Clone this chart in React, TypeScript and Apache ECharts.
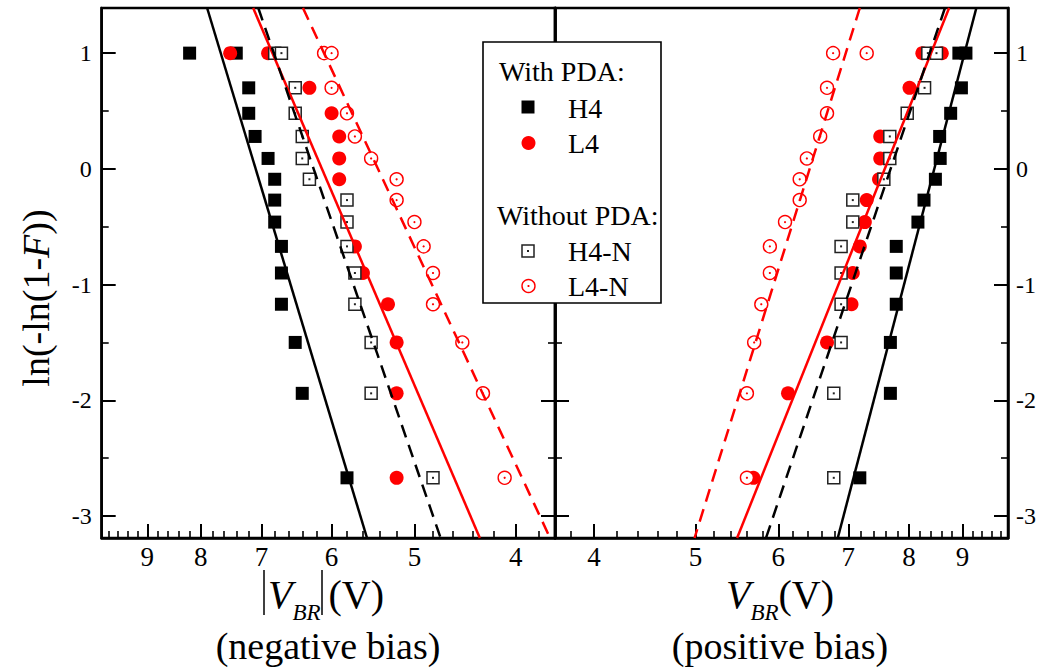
import React, { useEffect, useRef } from 'react';
import * as echarts from 'echarts';

const FONT = 'Liberation Serif';
const BLACK = '#000000';
const RED = '#ff0000';

// ---- axis ranges and ticks (V is shown on a logarithmic scale) ----
const X_MIN = 3.67;
const X_MAX = 9.95;
const Y_MIN = -3.19;
const Y_MAX = 1.39;
const X_MAJOR_TICKS = [4, 5, 6, 7, 8, 9];
const X_MINOR_TICKS = [3.8, 4.2, 4.4, 4.6, 4.8, 5.2, 5.4, 5.6, 5.8, 6.2, 6.4, 6.6, 6.8, 7.2, 7.4, 7.6, 7.8, 8.2, 8.4, 8.6, 8.8, 9.2, 9.4, 9.6, 9.8];
const Y_MAJOR_TICKS = [-3, -2, -1, 0, 1];
const Y_MINOR_TICKS = [-2.5, -1.5, -0.5, 0.5];

// ---- Weibull levels ln(-ln(1-F)) ----
const Y15 = [1.0, 1.0, 0.7, 0.48, 0.28, 0.09, -0.09, -0.27, -0.46, -0.67, -0.9, -1.17, -1.5, -1.94, -2.67];
const NEG_L4_Y = [1.0, 1.0, 0.7, 0.48, 0.28, 0.09, -0.09, -0.67, -0.9, -1.17, -1.5, -1.94, -2.67];
const POS_L4_Y = [1.0, 1.0, 0.7, 0.28, 0.09, -0.09, -0.27, -0.46, -0.67, -0.9, -1.17, -1.5, -1.94, -2.67];

// ---- negative bias |V_BR| (V) ----
const NEG_H4_V = [8.2, 7.4, 7.2, 7.2, 7.1, 6.9, 6.8, 6.8, 6.8, 6.7, 6.7, 6.7, 6.5, 6.4, 5.8];
const NEG_L4_V = [7.5, 6.9, 6.3, 6.0, 5.9, 5.9, 5.9, 5.7, 5.6, 5.3, 5.2, 5.2, 5.2];
const NEG_H4N_V = [6.8, 6.7, 6.5, 6.5, 6.4, 6.4, 6.3, 5.8, 5.8, 5.8, 5.7, 5.7, 5.5, 5.5, 4.8];
const NEG_L4N_V = [6.1, 6.0, 6.0, 5.8, 5.7, 5.5, 5.2, 5.2, 5.0, 4.9, 4.8, 4.8, 4.5, 4.3, 4.1];

// ---- positive bias V_BR (V) ----
const POS_H4_V = [8.93, 9.07, 8.98, 8.77, 8.56, 8.57, 8.48, 8.27, 8.16, 7.78, 7.78, 7.78, 7.68, 7.68, 7.18];
const POS_L4_V = [8.24, 8.6, 8.01, 7.51, 7.51, 7.49, 7.29, 7.26, 7.18, 7.07, 7.05, 6.68, 6.13, 5.68];
const POS_H4N_V = [8.34, 8.5, 8.28, 7.97, 7.67, 7.67, 7.57, 7.07, 7.07, 6.89, 6.89, 6.89, 6.89, 6.78, 6.78];
const POS_L4N_V = [6.77, 7.29, 6.68, 6.68, 6.58, 6.39, 6.29, 6.29, 6.09, 5.89, 5.89, 5.78, 5.69, 5.6, 5.6];

// ---- Weibull fit lines (end points) ----
const FIT_Y = [1.39, -3.19];
const NEG_FIT_H4 = [7.89, 5.55];
const NEG_FIT_L4 = [7.13, 4.33];
const NEG_FIT_H4N = [7.05, 4.72];
const NEG_FIT_L4N = [6.39, 3.71];
const POS_FIT_H4 = [9.28, 6.84];
const POS_FIT_L4 = [8.74, 5.48];
const POS_FIT_H4N = [8.66, 5.84];
const POS_FIT_L4N = [7.18, 4.99];

const ln = Math.log;
const pts = (vs: number[], ys: number[]) => vs.map((v, i) => [ln(v), ys[i]]);

function xAxis(gridIndex: number, inverse: boolean, major: boolean) {
  return {
    type: 'value',
    gridIndex,
    inverse,
    position: 'bottom',
    min: ln(X_MIN),
    max: ln(X_MAX),
    axisLine: { show: major, onZero: false, lineStyle: { color: BLACK, width: 2.5 } },
    axisTick: {
      show: true,
      inside: true,
      length: major ? 14 : 7,
      customValues: (major ? X_MAJOR_TICKS : X_MINOR_TICKS).map(ln),
      lineStyle: { color: BLACK, width: major ? 2 : 1.6 },
    },
    axisLabel: {
      show: major,
      customValues: X_MAJOR_TICKS.map(ln),
      formatter: (v: number) => `{t|${Math.round(Math.exp(v))}}`,
      fontFamily: FONT,
      fontSize: 27,
      color: BLACK,
      margin: 5,
      rich: { t: { fontFamily: FONT, fontSize: 27, color: BLACK } },
    },
    splitLine: { show: false },
  };
}

function yAxis(gridIndex: number, position: string, major: boolean, labels: boolean) {
  return {
    type: 'value',
    gridIndex,
    position,
    min: Y_MIN,
    max: Y_MAX,
    axisLine: { show: major, onZero: false, lineStyle: { color: BLACK, width: 2.5 } },
    axisTick: {
      show: true,
      inside: true,
      length: major ? 14 : 7,
      customValues: major ? Y_MAJOR_TICKS : Y_MINOR_TICKS,
      lineStyle: { color: BLACK, width: major ? 2 : 1.6 },
    },
    axisLabel: {
      show: labels,
      customValues: Y_MAJOR_TICKS,
      formatter: (v: number) => `{t|${v}}`,
      fontFamily: FONT,
      fontSize: 24,
      color: BLACK,
      margin: position === 'left' ? 10 : 8,
      rich: { t: { fontFamily: FONT, fontSize: 24, color: BLACK } },
    },
    splitLine: { show: false },
  };
}

function scatter(grid: number, data: number[][], symbol: string, size: number, itemStyle: any, z: number) {
  return {
    type: 'scatter',
    xAxisIndex: grid === 0 ? 0 : 2,
    yAxisIndex: grid === 0 ? 0 : 4,
    data,
    symbol,
    symbolSize: size,
    itemStyle: { opacity: 1, ...itemStyle },
    silent: true,
    z,
  };
}

function fit(grid: number, vs: number[], color: string, dashed: boolean) {
  return {
    type: 'line',
    xAxisIndex: grid === 0 ? 0 : 2,
    yAxisIndex: grid === 0 ? 0 : 4,
    data: pts(vs, FIT_Y),
    symbol: 'none',
    showSymbol: false,
    silent: true,
    clip: true,
    lineStyle: { color, width: 2.5, opacity: 1, type: dashed ? [13, 8] : 'solid' },
    z: 10,
  };
}

function seriesFor(grid: number, h4: number[], h4y: number[], l4: number[], l4y: number[], h4n: number[], l4n: number[]) {
  return [
    scatter(grid, pts(h4, h4y), 'rect', 13, { color: BLACK }, 2),
    scatter(grid, pts(l4, l4y), 'circle', 14, { color: RED }, 3),
    scatter(grid, pts(h4n, Y15), 'rect', 12, { color: '#ffffff', borderColor: '#222222', borderWidth: 1.5 }, 4),
    scatter(grid, pts(h4n, Y15), 'rect', 2, { color: '#222222' }, 4),
    scatter(grid, pts(l4n, Y15), 'circle', 13, { color: '#ffffff', borderColor: RED, borderWidth: 1.4 }, 5),
    scatter(grid, pts(l4n, Y15), 'circle', 2.2, { color: RED }, 5),
  ];
}

// all free texts go through rich text tokens so the serif family is applied
function txt(x: number, y: number, text: string, size: number, align = 'left', italic = false) {
  return {
    type: 'text',
    x,
    y,
    z: 101,
    silent: true,
    style: {
      text: `{t|${text}}`,
      fontFamily: FONT,
      fontSize: size,
      fill: BLACK,
      align,
      verticalAlign: 'middle',
      rich: { t: { fontFamily: FONT, fontSize: size, fontStyle: italic ? 'italic' : 'normal', fill: BLACK } },
    },
  };
}

const titleRich = {
  v: { fontFamily: FONT, fontSize: 40, fontStyle: 'italic', fill: BLACK, lineHeight: 60, verticalAlign: 'middle' },
  s: { fontFamily: FONT, fontSize: 23, fontStyle: 'italic', fill: BLACK, lineHeight: 26, verticalAlign: 'bottom' },
  p: { fontFamily: FONT, fontSize: 40, fill: BLACK, lineHeight: 60, verticalAlign: 'middle' },
  g: { fontFamily: FONT, fontSize: 40, fill: BLACK, lineHeight: 60, width: 8, verticalAlign: 'middle' },
};

function buildOption() {
  const graphic: any[] = [
    { type: 'rect', z: 100, silent: true, shape: { x: 483, y: 42, width: 178, height: 261 }, style: { fill: '#ffffff', stroke: BLACK, lineWidth: 1.6 } },
    txt(499, 71, 'With PDA:', 28),
    { type: 'rect', z: 101, silent: true, shape: { x: 521.5, y: 100.5, width: 13, height: 13 }, style: { fill: BLACK } },
    txt(568, 108, 'H4', 28),
    { type: 'circle', z: 101, silent: true, shape: { cx: 528.5, cy: 143, r: 7 }, style: { fill: RED } },
    txt(568, 143, 'L4', 28),
    txt(497, 215, 'Without PDA:', 28),
    { type: 'rect', z: 101, silent: true, shape: { x: 522, y: 245, width: 12, height: 12 }, style: { fill: '#ffffff', stroke: '#222222', lineWidth: 1.5 } },
    { type: 'rect', z: 102, silent: true, shape: { x: 527, y: 250, width: 2, height: 2 }, style: { fill: '#222222' } },
    txt(568, 251, 'H4-N', 28),
    { type: 'circle', z: 101, silent: true, shape: { cx: 528.5, cy: 286, r: 6.5 }, style: { fill: '#ffffff', stroke: RED, lineWidth: 1.4 } },
    { type: 'circle', z: 102, silent: true, shape: { cx: 528.5, cy: 286, r: 1.1 }, style: { fill: RED } },
    txt(568, 286, 'L4-N', 28),
    // y-axis title
    {
      type: 'text',
      x: 36,
      y: 298,
      rotation: Math.PI / 2,
      z: 101,
      silent: true,
      style: {
        text: '{a|ln(-ln(1-}{b|F}{a|))}',
        align: 'center',
        verticalAlign: 'middle',
        fontFamily: FONT,
        fontSize: 38,
        fill: BLACK,
        rich: {
          a: { fontFamily: FONT, fontSize: 38, fill: BLACK },
          b: { fontFamily: FONT, fontSize: 38, fontStyle: 'italic', fill: BLACK },
        },
      },
    },
    // left x title |V_BR|(V)
    { type: 'line', z: 101, silent: true, shape: { x1: 264, y1: 570, x2: 264, y2: 615 }, style: { stroke: BLACK, lineWidth: 1.5 } },
    { type: 'line', z: 101, silent: true, shape: { x1: 322, y1: 570, x2: 322, y2: 615 }, style: { stroke: BLACK, lineWidth: 1.5 } },
    {
      type: 'text', x: 268, y: 594, z: 101, silent: true,
      style: { text: '{v|V}{s|BR}{g| }{p|(V)}', align: 'left', verticalAlign: 'middle', fontFamily: FONT, fontSize: 40, fill: BLACK, rich: titleRich },
    },
    txt(328, 646, '(negative bias)', 38, 'center'),
    // right x title V_BR(V)
    {
      type: 'text', x: 726, y: 594, z: 101, silent: true,
      style: { text: '{v|V}{s|BR}{p|(V)}', align: 'left', verticalAlign: 'middle', fontFamily: FONT, fontSize: 40, fill: BLACK, rich: titleRich },
    },
    txt(780, 646, '(positive bias)', 38, 'center'),
  ];

  return {
    animation: false,
    backgroundColor: '#ffffff',
    textStyle: { fontFamily: FONT },
    grid: [
      { left: 101.7, top: 8, width: 453.3, height: 530, show: true, borderColor: BLACK, borderWidth: 2.5, backgroundColor: 'transparent', outerBoundsMode: 'none' },
      { left: 555, top: 8, width: 453, height: 530, show: true, borderColor: BLACK, borderWidth: 2.5, backgroundColor: 'transparent', outerBoundsMode: 'none' },
    ],
    xAxis: [xAxis(0, true, true), xAxis(0, true, false), xAxis(1, false, true), xAxis(1, false, false)],
    yAxis: [
      yAxis(0, 'left', true, true),
      yAxis(0, 'left', false, false),
      yAxis(0, 'right', true, false),
      yAxis(0, 'right', false, false),
      yAxis(1, 'left', true, false),
      yAxis(1, 'left', false, false),
      yAxis(1, 'right', true, true),
      yAxis(1, 'right', false, false),
    ],
    series: [
      ...seriesFor(0, NEG_H4_V, Y15, NEG_L4_V, NEG_L4_Y, NEG_H4N_V, NEG_L4N_V),
      ...seriesFor(1, POS_H4_V, Y15, POS_L4_V, POS_L4_Y, POS_H4N_V, POS_L4N_V),
      fit(0, NEG_FIT_H4, BLACK, false),
      fit(0, NEG_FIT_L4, RED, false),
      fit(0, NEG_FIT_H4N, BLACK, true),
      fit(0, NEG_FIT_L4N, RED, true),
      fit(1, POS_FIT_H4, BLACK, false),
      fit(1, POS_FIT_L4, RED, false),
      fit(1, POS_FIT_H4N, BLACK, true),
      fit(1, POS_FIT_L4N, RED, true),
    ],
    graphic,
  };
}

export default function App() {
  const ref = useRef<HTMLDivElement>(null);
  useEffect(() => {
    if (!ref.current) return;
    const chart = echarts.init(ref.current, null, { renderer: 'svg' });
    chart.setOption(buildOption() as any);
    return () => chart.dispose();
  }, []);
  return (
    <div
      ref={ref}
      style={{ position: 'fixed', left: 0, top: 0, width: 1040, height: 668, background: '#ffffff' }}
    />
  );
}
